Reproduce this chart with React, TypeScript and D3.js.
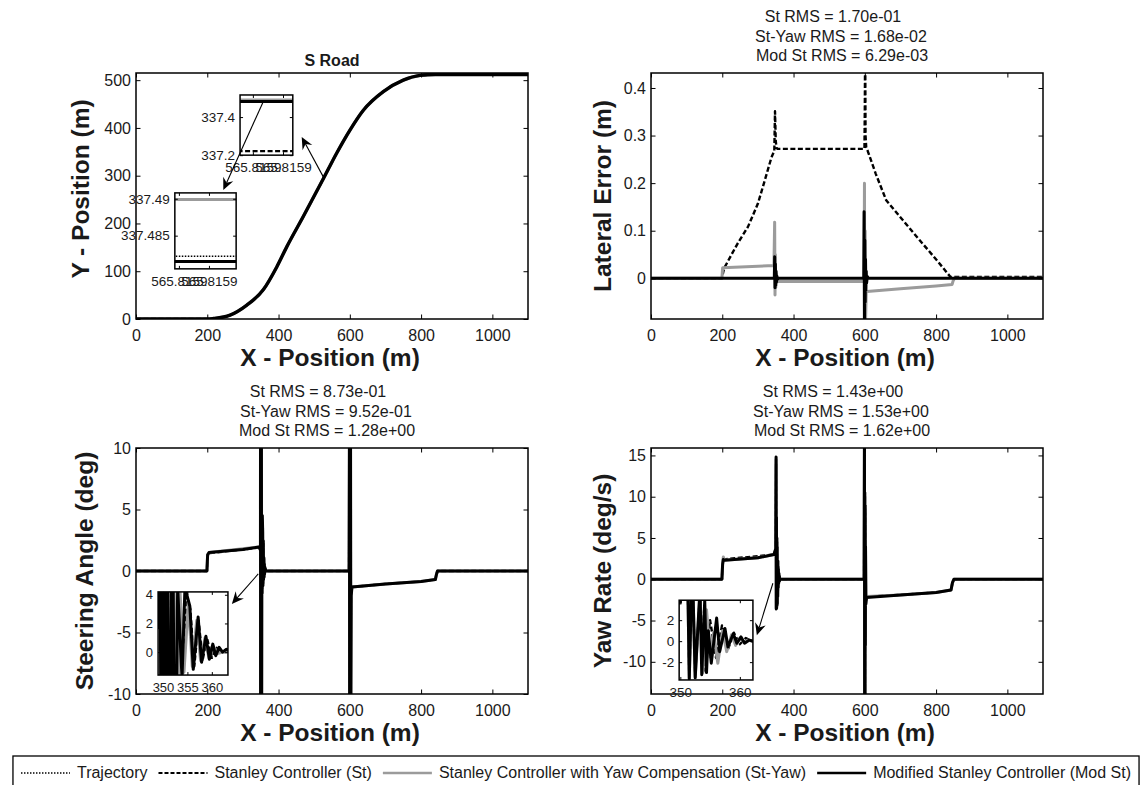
import React, { useEffect, useRef } from 'react';
import * as d3 from 'd3';

const FONT = '"Liberation Sans", Arial, Helvetica, sans-serif';
const INK = '#1a1a1a';
const PW = 392, PH = 246; // axes box size in px

type Key = 'traj' | 'st' | 'sy' | 'ms';

const LINE: Record<Key, { color: string; width: number; dash: string | null }> = {
  traj: { color: '#000', width: 1.6, dash: '1.5,1.5' },
  st: { color: '#000', width: 2.4, dash: '5,2.5' },
  sy: { color: '#9b9b9b', width: 3, dash: null },
  ms: { color: '#000', width: 3, dash: null },
};

const LEGEND: { key: Key; label: string }[] = [
  { key: 'traj', label: 'Trajectory' },
  { key: 'st', label: 'Stanley Controller (St)' },
  { key: 'sy', label: 'Stanley Controller with Yaw Compensation (St-Yaw)' },
  { key: 'ms', label: 'Modified Stanley Controller (Mod St)' },
];

const xTicks = [0, 200, 400, 600, 800, 1000];

// S road (all controllers overlap at this scale)
const roadX = [0, 200, 217, 264, 311, 357, 395, 423, 469, 526, 563, 600, 638, 694, 750, 797, 840, 1100];
const roadY = [0, 0, 1, 8, 29, 61, 109, 151, 214, 294, 347, 395, 437, 476, 500, 510, 512, 512];
const roadYTicks = [0, 100, 200, 300, 400, 500];

// zoomed values near x = 565.8159
const zoomX = [565.8158, 565.816];
const zoomTraj = [337.4822, 337.4822];
const zoomSt = [337.221, 337.221];
const zoomSy = [337.4899, 337.4899];
const zoomMs = [337.4815, 337.4815];

// lateral error (m)
const latStX = [0, 199, 205, 243, 272, 300, 319, 338, 346, 348, 350, 352, 356, 599, 600, 601, 602, 604, 608, 631, 660, 707, 754, 802, 840, 1100];
const latStY = [0, 0, 0.021, 0.073, 0.108, 0.157, 0.205, 0.254, 0.268, 0.351, 0.29, 0.274, 0.272, 0.272, 0.36, 0.5, 0.3, 0.275, 0.268, 0.219, 0.164, 0.122, 0.08, 0.038, 0.003, 0.003];
const latSyX = [0, 199, 201, 345, 347, 348, 349, 350, 351, 353, 356, 598, 599, 600, 601, 602, 604, 606, 700, 800, 845, 848, 852, 1100];
const latSyY = [0, 0, 0.022, 0.027, 0.118, -0.035, 0.05, -0.02, 0.01, -0.008, -0.007, -0.007, 0.2, -0.12, 0.1, -0.09, -0.03, -0.028, -0.022, -0.016, -0.013, -0.005, 0, 0];
const latMsX = [0, 346, 347, 348, 349, 350, 351, 352, 353, 355, 358, 597, 598, 599, 600, 601, 602, 603, 604, 605, 607, 610, 1100];
const latMsY = [0, 0, 0.045, -0.02, 0.03, -0.015, 0.015, -0.008, 0.005, -0.002, 0, 0, 0.14, -0.12, 0.08, -0.05, 0.04, -0.025, 0.015, -0.01, 0.004, 0, 0];
const latYTicks = [0, 0.1, 0.2, 0.3, 0.4];

// steering angle (deg)
const stStX = [0, 199, 201, 205, 345, 349.3, 349.7, 350.2, 350.7, 351.2, 351.8, 352.4, 353.1, 354, 354.8, 355.6, 356.4, 357.3, 358.1, 359, 360, 361, 362, 364, 598, 599, 599.6, 600.2, 600.8, 601.4, 602.2, 603, 606, 700, 800, 840, 843, 846, 1100];
const stStY = [0, 0, 1.25, 1.45, 1.9, 1.8, 11, -11, 11, -11, 11, -11, 4, -1.5, 4, 3, -1, 2.2, -0.6, 1, -0.4, 0.3, 0, 0, 0, 11, -11, 11, -11, 11, -11, -1.9, -1.3, -1.05, -0.85, -0.7, -0.3, 0, 0];
const stSyX = [0, 199, 201, 205, 345, 349.3, 349.8, 350.3, 350.9, 351.5, 352.1, 352.8, 353.5, 354.3, 355.2, 356, 356.9, 357.7, 358.6, 359.4, 360.3, 361.2, 362.2, 364, 598, 599, 599.6, 600.2, 600.8, 601.4, 602.2, 603, 606, 700, 800, 840, 843, 846, 1100];
const stSyY = [0, 0, 1.35, 1.5, 1.95, 1.8, 11, -11, 11, -11, 11, -11, 4.2, -1.4, 3.5, -1, 2.2, -0.6, 1, -0.4, 0.4, -0.1, 0, 0, 0, 11, -11, 11, -11, 11, -11, -2, -1.3, -1.05, -0.85, -0.7, -0.3, 0, 0];
const stMsX = [0, 199, 201, 205, 300, 345, 349.2, 349.4, 349.6, 350, 350.4, 350.8, 351.4, 351.9, 352.5, 353, 353.9, 354.5, 355.5, 356.2, 357.2, 357.9, 358.8, 359.5, 360.2, 360.8, 361.5, 362.2, 363, 364, 366, 598, 599, 599.5, 600, 600.5, 601, 601.5, 602, 603, 604, 606, 700, 800, 840, 843, 846, 1100];
const stMsY = [0, 0, 1.3, 1.5, 1.75, 1.95, 1.7, 12, -12, 12, -12, 12, -12, 12, -12, 4.5, -1.8, 4.5, 3.2, -1.2, 2.45, -0.7, 1.1, -0.5, 0.56, -0.25, 0.33, 0, 0.2, 0.05, 0, 0, 12, -12, 12, -12, 12, -12, 12, -12, -2, -1.3, -1.05, -0.85, -0.7, -0.3, 0, 0];
const steerYTicks = [-10, -5, 0, 5, 10];

// yaw rate (deg/s)
const yawStX = [0, 199, 201, 204, 345, 350, 351, 351.5, 352, 352.5, 353.3, 354, 355, 356, 357, 358, 359, 360, 361, 362, 364, 598, 599, 599.5, 600, 600.5, 601, 602, 603, 605, 700, 800, 842, 846, 850, 1100];
const yawStY = [0, 0, 1.9, 2.4, 3.0, 3.6, 14, -3.4, 7, -3.3, 4.5, -2.8, 2, -1.6, 1.5, -0.8, 0.8, -0.3, 0.3, 0, 0, 0, 17, -17, 10, -14, 8, 3, -2.5, -2.1, -1.9, -1.6, -1.3, -0.4, 0, 0];
const yawSyX = [0, 199, 201, 203, 206, 300, 345, 350, 351, 351.5, 352, 352.5, 353.3, 353.8, 354.4, 355, 355.6, 356.3, 357.1, 357.8, 358.6, 359.3, 360, 360.7, 361.4, 362.2, 364, 598, 599, 599.5, 600, 600.5, 601, 601.5, 602, 603, 605, 700, 800, 842, 846, 850, 1100];
const yawSyY = [0, 0, 2.0, 2.7, 2.3, 2.6, 3.0, 3.6, 14.5, -3.5, 7.0, -3.4, 4.5, -3.0, 3.0, -1.5, 0.8, -2.1, 1.0, -1.0, 0.6, -0.4, 0.3, -0.1, 0.1, 0, 0, 0, 17, -17, 10, -14, 8.5, -7, 3.5, -2.5, -2.1, -1.9, -1.6, -1.3, -0.4, 0, 0];
const yawMsX = [0, 199, 201, 203, 205, 300, 345, 350, 351, 351.5, 352, 352.5, 353.3, 353.6, 354.1, 354.4, 354.7, 355.2, 356.1, 356.6, 357.5, 358, 358.9, 359.5, 360.2, 360.8, 361.6, 362.2, 364, 598, 599, 599.5, 600, 600.5, 601, 601.5, 602, 603, 605, 700, 800, 842, 846, 850, 1100];
const yawMsY = [0, 0, 1.8, 2.4, 2.3, 2.6, 3.0, 3.7, 14.8, -3.6, 7.5, -3.5, 5, -3.2, 3.9, -3.0, 1.0, -2.1, 2.2, -1.0, 1.2, -0.55, 0.7, -0.2, 0.4, -0.2, 0.1, 0, 0, 0, 18, -18, 10.5, -15, 9, -8, 4, -3, -2.2, -1.9, -1.6, -1.3, -0.4, 0, 0];
const yawYTicks = [-10, -5, 0, 5, 10, 15];

type Series = { key: Key; x: number[]; y: number[] };
type Inset = {
  rect: [number, number, number, number]; // x0, x1, yTop, yBottom in parent data units
  xDomain: [number, number]; yDomain: [number, number];
  xTicks: number[]; yTicks: number[]; fs: number;
  fmtX: (d: number) => string; series?: Series[];
};
type Panel = {
  left: number; top: number; yDomain: [number, number]; yTicks: number[];
  series: Series[]; smooth?: boolean; title: string[]; titleBold?: boolean;
  ylabel: string; ylabelGap: number; ylabelDy?: number; insets: Inset[]; arrows: number[][];
};

const roadAll = (['traj', 'st', 'sy', 'ms'] as Key[]).map(k => ({ key: k, x: roadX, y: roadY }));
const roadZoom: Series[] = [
  { key: 'traj', x: zoomX, y: zoomTraj },
  { key: 'st', x: zoomX, y: zoomSt },
  { key: 'sy', x: zoomX, y: zoomSy },
  { key: 'ms', x: zoomX, y: zoomMs },
];
const f4 = d3.format('.4f');

const panels: Panel[] = [
  {
    left: 136, top: 73, yDomain: [0, 515], yTicks: roadYTicks, series: roadAll, smooth: true,
    title: ['S Road'], titleBold: true, ylabel: 'Y - Position (m)', ylabelGap: 47, ylabelDy: -7,
    insets: [
      { rect: [292, 440, 469, 343], xDomain: [565.815863, 565.815933], yDomain: [337.2, 337.516],
        xTicks: [565.81588, 565.81592], yTicks: [337.2, 337.4], fs: 13.5, fmtX: f4, series: roadZoom },
      { rect: [109, 281, 264, 105], xDomain: [565.8158746, 565.8159562], yDomain: [337.4805, 337.4908],
        xTicks: [565.81588, 565.81592], yTicks: [337.485, 337.49], fs: 13.5, fmtX: f4, series: roadZoom },
    ],
    arrows: [[526, 297, 465, 381], [357, 455, 245, 270]],
  },
  {
    left: 651, top: 73, yDomain: [-0.0856, 0.4315], yTicks: latYTicks,
    series: [{ key: 'st', x: latStX, y: latStY }, { key: 'sy', x: latSyX, y: latSyY }, { key: 'ms', x: latMsX, y: latMsY }],
    title: ['St RMS = 1.70e-01', 'St-Yaw RMS = 1.68e-02', 'Mod St RMS = 6.29e-03'],
    ylabel: 'Lateral Error (m)', ylabelGap: 40.5, insets: [], arrows: [],
  },
  {
    left: 136, top: 448, yDomain: [-10, 10], yTicks: steerYTicks,
    series: [{ key: 'st', x: stStX, y: stStY }, { key: 'sy', x: stSyX, y: stSyY }, { key: 'ms', x: stMsX, y: stMsY }],
    title: ['St RMS = 8.73e-01', 'St-Yaw RMS = 9.52e-01', 'Mod St RMS = 1.28e+00'],
    ylabel: 'Steering Angle (deg)', ylabelGap: 43.5,
    insets: [{ rect: [62, 258, -1.7, -8.46], xDomain: [349, 363.3], yDomain: [-1.6, 4.2],
      xTicks: [350, 355, 360], yTicks: [0, 2, 4], fs: 13, fmtX: d => String(d) }],
    arrows: [[343, -0.24, 269, -2.68]],
  },
  {
    left: 651, top: 448, yDomain: [-13.9, 15.9], yTicks: yawYTicks,
    series: [{ key: 'st', x: yawStX, y: yawStY }, { key: 'sy', x: yawSyX, y: yawSyY }, { key: 'ms', x: yawMsX, y: yawMsY }],
    title: ['St RMS = 1.43e+00', 'St-Yaw RMS = 1.53e+00', 'Mod St RMS = 1.62e+00'],
    ylabel: 'Yaw Rate (deg/s)', ylabelGap: 40.5,
    insets: [{ rect: [79, 286, -2.54, -12.2], xDomain: [349.8, 362.2], yDomain: [-3.7, 3.9],
      xTicks: [350, 360], yTicks: [-2, 0, 2], fs: 13.5, fmtX: d => String(d) }],
    arrows: [[342, -0.48, 297, -6.78]],
  },
];

type Sel = d3.Selection<any, any, any, any>;

function drawSeries(g: Sel, series: Series[], x: any, y: any, clipId: string, smooth?: boolean) {
  const line = d3.line<[number, number]>()
    .x(d => x(d[0])).y(d => y(d[1]))
    .curve(smooth ? d3.curveMonotoneX : d3.curveLinear);
  const cg = g.append('g').attr('clip-path', `url(#${clipId})`);
  series.forEach(s => {
    const st = LINE[s.key];
    const pts = s.x.map((v, i) => [v, s.y[i]] as [number, number]);
    cg.append('path')
      .attr('d', line(pts))
      .attr('fill', 'none')
      .attr('stroke', st.color)
      .attr('stroke-width', smooth && s.key === 'ms' ? 3.4 : st.width)
      .attr('stroke-dasharray', st.dash)
      .attr('stroke-linejoin', 'round');
  });
}

function drawFrame(g: Sel, x: any, y: any, xt: number[], yt: number[], o: any) {
  const [x0, x1] = x.range();
  const [yb, ytop] = y.range();
  const style = (sel: Sel) => {
    sel.select('.domain').remove();
    sel.attr('font-size', o.fs).attr('font-family', FONT);
    sel.selectAll('text').attr('fill', INK);
    sel.selectAll('line').attr('stroke', '#000').attr('stroke-width', 1);
  };
  g.append('g').attr('transform', `translate(0,${yb})`)
    .call(d3.axisBottom(x).tickValues(xt).tickSize(-o.len).tickPadding(o.padX).tickFormat(o.fmtX)).call(style);
  g.append('g').attr('transform', `translate(0,${ytop})`)
    .call(d3.axisTop(x).tickValues(xt).tickSize(-o.len).tickFormat(() => '')).call(style);
  g.append('g').attr('transform', `translate(${x0},0)`)
    .call(d3.axisLeft(y).tickValues(yt).tickSize(-o.len).tickPadding(o.padY).tickFormat(o.fmtY)).call(style);
  g.append('g').attr('transform', `translate(${x1},0)`)
    .call(d3.axisRight(y).tickValues(yt).tickSize(-o.len).tickFormat(() => '')).call(style);
  g.append('rect')
    .attr('x', x0).attr('y', ytop).attr('width', x1 - x0).attr('height', yb - ytop)
    .attr('fill', 'none').attr('stroke', '#000').attr('stroke-width', 1.5);
}

function drawArrow(g: Sel, x1: number, y1: number, x2: number, y2: number) {
  const dx = x2 - x1, dy = y2 - y1, len = Math.hypot(dx, dy);
  const ux = dx / len, uy = dy / len, nx = -uy, ny = ux;
  const L = 12, hw = 5.5, notch = 4;
  g.append('line')
    .attr('x1', x1).attr('y1', y1).attr('x2', x2 - (L - notch) * ux).attr('y2', y2 - (L - notch) * uy)
    .attr('stroke', '#000').attr('stroke-width', 1.1);
  const pts = [
    [x2, y2],
    [x2 - L * ux + hw * nx, y2 - L * uy + hw * ny],
    [x2 - (L - notch) * ux, y2 - (L - notch) * uy],
    [x2 - L * ux - hw * nx, y2 - L * uy - hw * ny],
  ];
  g.append('polygon').attr('points', pts.map(p => p.join(',')).join(' ')).attr('fill', '#000');
}

function drawPanel(svg: Sel, p: Panel, idx: number) {
  const x = d3.scaleLinear().domain([0, 1100]).range([p.left, p.left + PW]);
  const y = d3.scaleLinear().domain(p.yDomain).range([p.top + PH, p.top]);
  const g = svg.append('g');
  const clipId = `clip${idx}`;
  svg.append('clipPath').attr('id', clipId).append('rect')
    .attr('x', p.left).attr('y', p.top).attr('width', PW).attr('height', PH);

  drawSeries(g, p.series, x, y, clipId, p.smooth);
  drawFrame(g, x, y, xTicks, p.yTicks, { fs: 16, len: 4.5, padX: 10.6, padY: 5, fmtX: (d: number) => String(d), fmtY: (d: number) => String(d) });

  const cx = p.left + PW / 2;
  if (p.titleBold) {
    g.append('text').attr('x', cx).attr('y', p.top - 7).attr('text-anchor', 'middle')
      .attr('font-family', FONT).attr('font-size', 16).attr('font-weight', 'bold').attr('fill', INK).text(p.title[0]);
  } else {
    const dxs = [-14, -6, -5];
    p.title.forEach((t, i) => {
      g.append('text').attr('x', cx + dxs[i]).attr('y', p.top - 51 + i * 19.5).attr('text-anchor', 'middle')
        .attr('font-family', FONT).attr('font-size', 16).attr('fill', INK).text(t);
    });
  }
  g.append('text').attr('x', cx - 2).attr('y', p.top + PH + 47).attr('text-anchor', 'middle')
    .attr('font-family', FONT).attr('font-size', 24.5).attr('font-weight', 'bold').attr('fill', INK)
    .text('X - Position (m)');
  g.append('text')
    .attr('transform', `translate(${p.left - p.ylabelGap},${p.top + PH / 2 + (p.ylabelDy || 0)}) rotate(-90)`)
    .attr('text-anchor', 'middle')
    .attr('font-family', FONT).attr('font-size', 24.5).attr('font-weight', 'bold').attr('fill', INK)
    .text(p.ylabel);

  p.insets.forEach((ins, j) => {
    const [rx0, rx1, ryt, ryb] = ins.rect;
    const ix = d3.scaleLinear().domain(ins.xDomain).range([x(rx0), x(rx1)]);
    const iy = d3.scaleLinear().domain(ins.yDomain).range([y(ryb), y(ryt)]);
    const id = `${clipId}_${j}`;
    svg.append('clipPath').attr('id', id).append('rect')
      .attr('x', x(rx0)).attr('y', y(ryt)).attr('width', x(rx1) - x(rx0)).attr('height', y(ryb) - y(ryt));
    const ig = g.append('g');
    ig.append('rect').attr('x', x(rx0)).attr('y', y(ryt)).attr('width', x(rx1) - x(rx0)).attr('height', y(ryb) - y(ryt))
      .attr('fill', '#fff');
    drawSeries(ig, ins.series || p.series, ix, iy, id, false);
    drawFrame(ig, ix, iy, ins.xTicks, ins.yTicks, {
      fs: ins.fs, len: 3, padX: 17 - 0.71 * ins.fs, padY: 5, fmtX: ins.fmtX, fmtY: (d: number) => String(d),
    });
  });

  p.arrows.forEach(a => drawArrow(g, x(a[0]), y(a[1]), x(a[2]), y(a[3])));
}

function drawLegend(svg: Sel) {
  const g = svg.append('g').attr('font-family', FONT).attr('font-size', 16);
  const sample = 49, gapT = 7, gapI = 11, base = 778, center = 576;
  const items = LEGEND.map(l => {
    const t = g.append('text').attr('y', base).attr('fill', INK).text(l.label);
    return { l, t, w: (t.node() as SVGTextElement).getComputedTextLength() };
  });
  const total = d3.sum(items, d => sample + gapT + d.w) + gapI * (items.length - 1);
  let cx = center - total / 2;
  items.forEach(d => {
    const st = LINE[d.l.key];
    g.append('line')
      .attr('x1', cx).attr('x2', cx + sample).attr('y1', base - 5).attr('y2', base - 5)
      .attr('stroke', st.color)
      .attr('stroke-width', d.l.key === 'traj' ? 1.4 : st.width - 0.6)
      .attr('stroke-dasharray', d.l.key === 'st' ? '4,2' : st.dash);
    d.t.attr('x', cx + sample + gapT);
    cx += sample + gapT + d.w + gapI;
  });
  g.append('rect')
    .attr('x', center - total / 2 - 8).attr('y', 756).attr('width', total + 16).attr('height', 40)
    .attr('fill', 'none').attr('stroke', '#000').attr('stroke-width', 1.3);
}

export default function App() {
  const ref = useRef<SVGSVGElement>(null);

  useEffect(() => {
    const svg = d3.select(ref.current);
    svg.selectAll('*').remove();
    panels.forEach((p, i) => drawPanel(svg, p, i));
    drawLegend(svg);
  }, []);

  return (
    <svg ref={ref} width={1141} height={785}
      style={{ position: 'absolute', left: 0, top: 0, background: '#fff', display: 'block' }} />
  );
}
